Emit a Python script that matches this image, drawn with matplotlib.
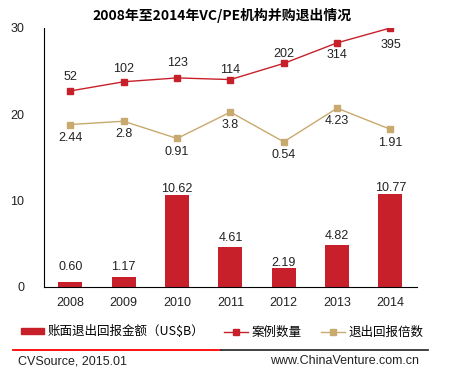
import matplotlib
matplotlib.use("Agg")
import matplotlib.pyplot as plt
from matplotlib.lines import Line2D
from matplotlib.patches import Patch

plt.rcParams['font.family'] = ['Liberation Sans', 'Noto Sans CJK SC', 'DejaVu Sans']

# data
years = ['2008', '2009', '2010', '2011', '2012', '2013', '2014']
exit_amount = [0.60, 1.17, 10.62, 4.61, 2.19, 4.82, 10.77]   # US$B
deal_count = [52, 102, 123, 114, 202, 314, 395]
return_multiple = [2.44, 2.8, 0.91, 3.8, 0.54, 4.23, 1.91]

bar_color = '#C8202A'
tan_color = '#C8A96E'
cjk = ['Noto Sans CJK SC', 'DejaVu Sans']

fig = plt.figure(figsize=(4.5, 3.73), dpi=100)
ax = fig.add_axes([0.097, 0.231, 0.830, 0.694])
x = list(range(len(years)))

bars = ax.bar(x, exit_amount, width=0.45, color=bar_color, zorder=2)
ax.set_xlim(-0.5, 6.5)
ax.set_ylim(0, 30)
ax.set_yticks([0, 10, 20, 30])
ax.set_xticks(x)
ax.set_xticklabels(years)
ax.tick_params(axis='both', length=0, labelsize=9, colors='#222222')
ax.tick_params(axis='y', pad=14)
ax.tick_params(axis='x', pad=7)
for s in ['top', 'right']:
    ax.spines[s].set_visible(False)
ax.spines['left'].set_color('black')
ax.spines['bottom'].set_color('black')

# bar labels (offset of label centre above bar top, points)
bar_dy = [10.8, 7.2, 4.3, 6.5, 3.6, 6.5, 4.3]
for xi, v, dy in zip(x, exit_amount, bar_dy):
    ax.annotate(f'{v:.2f}', xy=(xi, v), xytext=(0, dy), textcoords='offset points',
                ha='center', va='center', fontsize=9, color='#222222')

# deal count on hidden axis
ax2 = ax.twinx()
ax2.set_ylim(-1015, 395)
ax2.plot(x, deal_count, color=bar_color, lw=1, marker='s', ms=4.5, zorder=3)
ax2.axis('off')
count_dy = [10, 9, 11, 7, 7, -9, -12]
for xi, v, dy in zip(x, deal_count, count_dy):
    ax2.annotate(str(v), xy=(xi, v), xytext=(0, dy), textcoords='offset points',
                 ha='center', va='center', fontsize=9, color='#222222')

# return multiple on hidden axis
ax3 = ax.twinx()
ax3.set_ylim(-15.35, 13.02)
ax3.plot(x, return_multiple, color=tan_color, lw=1, marker='s', ms=4.5, zorder=3)
ax3.axis('off')
for xi, v in zip(x, return_multiple):
    ax3.annotate(f'{v:g}', xy=(xi, v), xytext=(0, -9.5), textcoords='offset points',
                 ha='center', va='center', fontsize=9, color='#222222')

fig.text(0.493, 0.958, '2008年至2014年VC/PE机构并购退出情况', ha='center', va='center',
         fontsize=10, fontweight='bold', family=cjk)

handles = [Patch(color=bar_color),
           Line2D([], [], color=bar_color, lw=1, marker='s', ms=4),
           Line2D([], [], color=tan_color, lw=1, marker='s', ms=4)]
labels = ['账面退出回报金额（US$B）', '案例数量', '退出回报倍数']
leg = fig.legend(handles, labels, loc='center', bbox_to_anchor=(0.493, 0.11), ncol=3,
                 frameon=False, handlelength=1.9, handleheight=0.4, handletextpad=0.25,
                 columnspacing=1.6, prop={'family': cjk, 'size': 9})

# footer
fig.add_artist(Line2D([0.029, 0.491], [0.062, 0.062], color='#FF0000', lw=1.3))
fig.add_artist(Line2D([0.491, 0.952], [0.062, 0.062], color='#333333', lw=1.3))
fig.text(0.04, 0.032, 'CVSource, 2015.01', ha='left', va='center', fontsize=9, color='#222222')
fig.text(0.932, 0.032, 'www.ChinaVenture.com.cn', ha='right', va='center', fontsize=9, color='#222222')

fig.savefig('out.png', dpi=100)
